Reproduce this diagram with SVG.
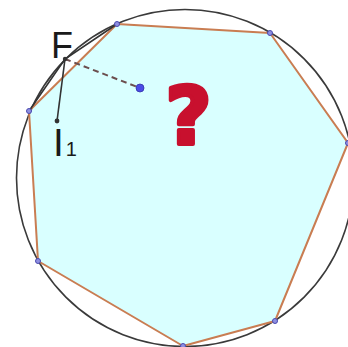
<svg xmlns="http://www.w3.org/2000/svg" width="348" height="347" viewBox="0 0 348 347">
  <style>
    .edge { fill: none; stroke: #c97d52; stroke-width: 2; stroke-linejoin: round; }
    .vert { fill: #8f8fe0; stroke: #4a4ab0; stroke-width: 1; }
    .dark { stroke: #333333; stroke-width: 1.6; fill: none; }
    .lbl { font-family: "Liberation Sans", Arial, sans-serif; fill: #1a1a1a; }
  </style>
  <rect width="348" height="347" fill="#ffffff"/>
  <g id="polygon">
    <polygon points="117,24 270,33 348,143 275,321 183,346 38,261 29,111" fill="#d9ffff" stroke="none"/>
  </g>
  <g id="circle">
    <circle cx="185" cy="178" r="168.5" fill="none" stroke="#3a3a3a" stroke-width="1.6"/>
  </g>
  <g id="edges">
    <polygon class="edge" points="117,24 270,33 348,143 275,321 183,346 38,261 29,111"/>
  </g>
  <g id="connectors">
    <polyline class="dark" points="117,24 65,59 29,111"/>
    <line class="dark" x1="65" y1="59" x2="57" y2="121"/>
    <line x1="65" y1="59" x2="140" y2="88" stroke="#6b4e4e" stroke-width="2" stroke-dasharray="6,4"/>
  </g>
  <g id="vertices">
    <circle class="vert" cx="117" cy="24" r="2.5"/>
    <circle class="vert" cx="270" cy="33" r="2.5"/>
    <circle class="vert" cx="348" cy="143" r="2.5"/>
    <circle class="vert" cx="275" cy="321" r="2.5"/>
    <circle class="vert" cx="183" cy="346" r="2.5"/>
    <circle class="vert" cx="38" cy="261" r="2.5"/>
    <circle class="vert" cx="29" cy="111" r="2.5"/>
  </g>
  <g id="F">
    <circle cx="65" cy="59" r="2.2" fill="#333333"/>
    <text class="lbl" x="51" y="58" font-size="36">F</text>
  </g>
  <g id="I1">
    <circle cx="57" cy="121" r="2.4" fill="#333333"/>
    <text class="lbl" x="53" y="156" font-size="39">I<tspan font-size="20" dx="2">1</tspan></text>
  </g>
  <g id="center">
    <circle cx="140" cy="88" r="4" fill="#4b4be6" stroke="#3333aa" stroke-width="0.8"/>
  </g>
  <g id="question">
    <text x="188.5" y="143.5" font-family="DejaVu Sans, sans-serif" font-weight="bold" font-size="80" fill="#c8102e" stroke="#c8102e" stroke-width="4" stroke-linejoin="round" text-anchor="middle">?</text>
  </g>
</svg>
